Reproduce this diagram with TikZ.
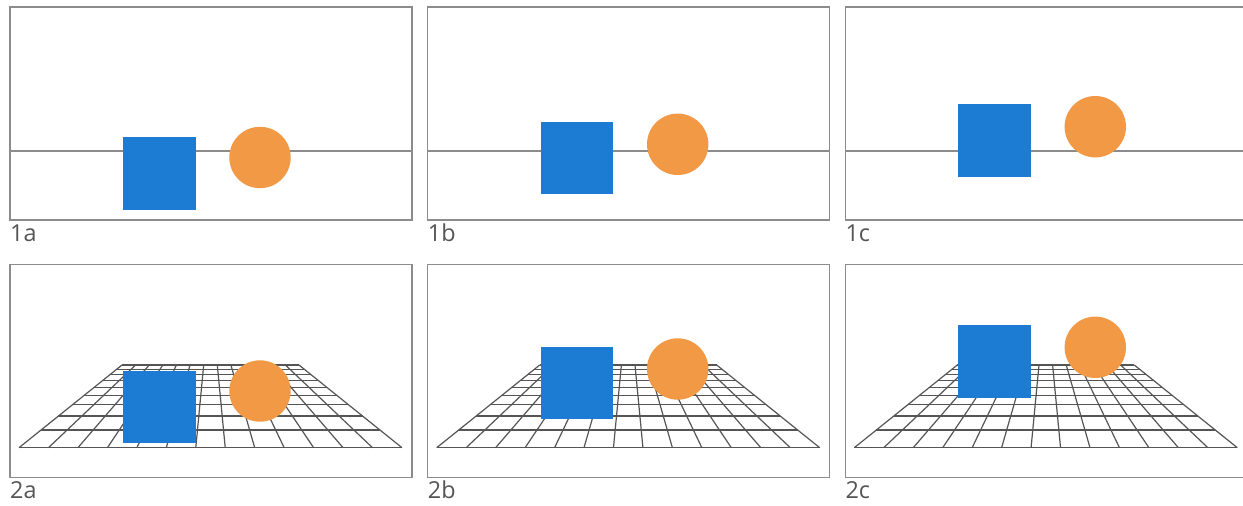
\documentclass[tikz,border=0pt]{standalone}
\usepackage{fontspec}
\setmainfont{Open Sans}
\definecolor{sqblue}{HTML}{1C7BD3}
\definecolor{ciorange}{HTML}{F29946}
\definecolor{framegray}{HTML}{8C8C8C}
\definecolor{gridgray}{HTML}{555555}
\definecolor{labgray}{HTML}{555555}
\tikzset{
  frame/.style={draw=framegray, line width=1.5pt},
  horizon/.style={draw=framegray, line width=1.5pt},
  gridline/.style={draw=gridgray, line width=1.2pt},
  sq/.style={fill=sqblue},
  ball/.style={fill=ciorange},
  lab/.style={anchor=base west, inner sep=0pt, text=labgray, font=\fontsize{23.4}{26}\selectfont}
}
\begin{document}
\begin{tikzpicture}[x=1pt,y=-1pt]
\useasboundingbox (0,0) rectangle (1243,506);
\clip (0,0) rectangle (1243,506);
\fill[white] (0,0) rectangle (1243,506);
% Row 1: flat horizon
\foreach \ox/\lab/\sy/\cy in {10/a/137/157.5, 427.7/b/121.7/144.3, 845.3/c/104/126.7}{
  \draw[frame] (\ox,7) rectangle ++(402,213);
  \draw[horizon] (\ox,151) -- ++(402,0);
  \fill[sq] (\ox+113,\sy) rectangle ++(72.6,72.6);
  \fill[ball] (\ox+250,\cy) circle[radius=30.7];
  \node[lab] (l1\lab) at (\ox,241.8) {1\lab};
}
% Row 2: perspective grid
\foreach \ox/\lab/\sy/\cy in {10/a/370.7/391, 427.7/b/346.7/369, 845.3/c/325/347.3}{
  \draw[frame] (\ox,264.3) rectangle ++(402,213.4);
  \foreach \i in {0,...,13}{
    \draw[gridline] (\ox+9+\i*29.4615,447.7) -- (\ox+112+\i*13.6154,365);
  }
  \foreach \k in {0,...,9}{
    \pgfmathsetmacro\z{1+\k*0.129333}
    \pgfmathsetmacro\yy{293.9+153.8/\z}
    \pgfmathsetmacro\hw{191.5/\z}
    \draw[gridline] (\ox+200.5-\hw,\yy) -- (\ox+200.5+\hw,\yy);
  }
  \fill[sq] (\ox+113,\sy) rectangle ++(72.6,72.6);
  \fill[ball] (\ox+250,\cy) circle[radius=30.7];
  \node[lab] (l2\lab) at (\ox,498.8) {2\lab};
}
\end{tikzpicture}
\end{document}
